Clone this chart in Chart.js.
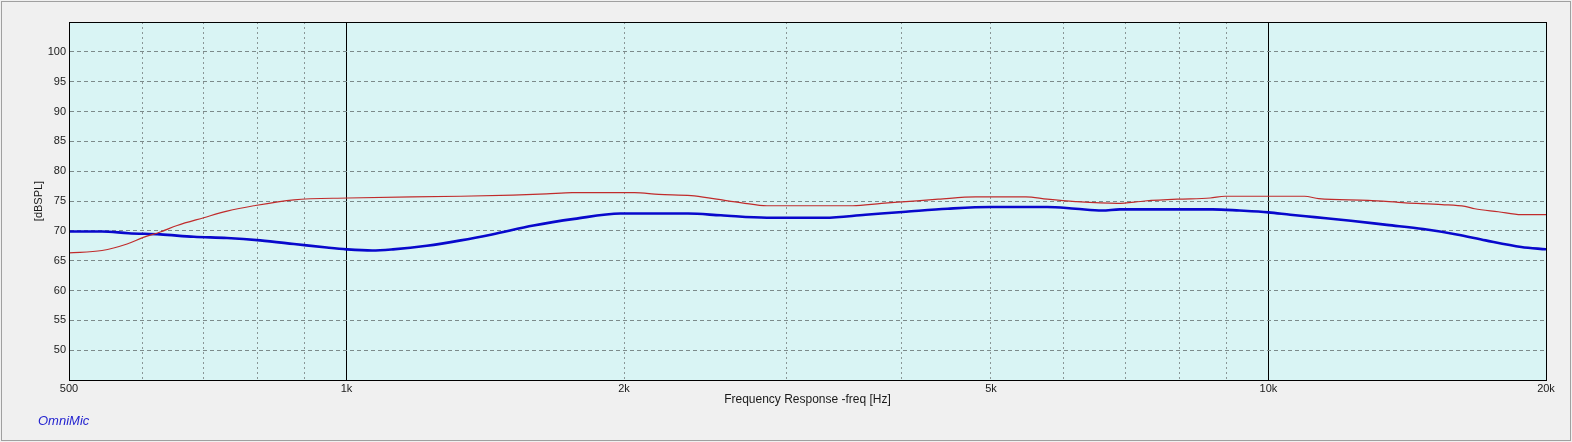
<!DOCTYPE html>
<html>
<head>
<meta charset="utf-8">
<title>Frequency Response</title>
<script src="https://cdn.jsdelivr.net/npm/chart.js@4/dist/chart.umd.min.js"></script>
<style>
  html, body { margin: 0; padding: 0; background: #f0f0f0; }
  #wrap { width: 1572px; height: 442px; }
</style>
</head>
<body>
<div id="wrap"><canvas id="fr" width="1572" height="442"></canvas></div>
<script>
// red trace (thin)
const redFreq = [500, 543, 578, 602, 628, 655, 700, 742, 793, 877, 1003, 1330, 1515, 1648, 1757, 2053, 2181, 2365, 2521, 2684, 2857, 3541, 3804, 4043, 4384, 4812, 5455, 5755, 6178, 6857, 7342, 7967, 8645, 8975, 10940, 11336, 12830, 14073, 15420, 16337, 16740, 17750, 18800, 20000];
const redDb = [66.3, 66.7, 67.8, 68.9, 69.8, 70.9, 72.2, 73.3, 74.2, 75.2, 75.5, 75.8, 76.0, 76.2, 76.4, 76.4, 76.1, 75.9, 75.3, 74.7, 74.2, 74.2, 74.6, 74.9, 75.3, 75.7, 75.7, 75.3, 74.9, 74.6, 75.0, 75.3, 75.5, 75.8, 75.8, 75.4, 75.1, 74.7, 74.4, 74.1, 73.7, 73.2, 72.7, 72.7];

// blue trace (bold)
const blueFreq = [500, 543, 580, 628, 683, 742, 806, 877, 952, 1000, 1066, 1123, 1222, 1330, 1438, 1595, 1767, 1982, 2346, 2547, 2857, 3302, 3655, 4043, 4485, 4998, 5755, 6178, 6600, 6900, 8700, 9300, 10000, 10560, 11222, 12284, 13440, 14720, 16000, 17200, 18800, 20000];
const blueDb = [69.9, 69.9, 69.6, 69.4, 69.0, 68.8, 68.4, 67.8, 67.2, 66.9, 66.7, 66.9, 67.5, 68.4, 69.4, 70.9, 72.0, 72.9, 72.9, 72.6, 72.2, 72.2, 72.7, 73.2, 73.7, 74.0, 74.0, 73.7, 73.4, 73.6, 73.6, 73.4, 73.1, 72.7, 72.3, 71.7, 71.0, 70.3, 69.4, 68.4, 67.3, 66.9];

const xTicks = [500, 600, 700, 800, 900, 1000, 2000, 3000, 4000, 5000, 6000, 7000, 8000, 9000, 10000, 20000];
const xLabels = {500: '500', 1000: '1k', 2000: '2k', 5000: '5k', 10000: '10k', 20000: '20k'};
const yTicks = [50, 55, 60, 65, 70, 75, 80, 85, 90, 95, 100];

const FONT = '"Liberation Sans", Arial, sans-serif';

function pts(xs, ys) {
  return xs.map((x, i) => ({x: x, y: ys[i]}));
}
function isMajor(c) {
  return c.tick && (c.tick.value === 1000 || c.tick.value === 10000);
}

const framePlugin = {
  id: 'frame',
  beforeDraw(chart) {
    const c = chart.ctx, a = chart.chartArea;
    c.save();
    c.fillStyle = '#f0f0f0';
    c.fillRect(0, 0, chart.width, chart.height);
    c.fillStyle = '#d9f4f4';
    c.fillRect(a.left, a.top, a.right - a.left, a.bottom - a.top);
    c.restore();
  },
  afterDraw(chart) {
    const c = chart.ctx, a = chart.chartArea;
    c.save();
    c.strokeStyle = '#000';
    c.lineWidth = 1;
    c.strokeRect(Math.round(a.left) + 0.5, Math.round(a.top) + 0.5,
      Math.round(a.right - a.left), Math.round(a.bottom - a.top));
    c.strokeStyle = '#a0a0a0';
    c.strokeRect(1.5, 1.5, chart.width - 3, chart.height - 3);
    c.fillStyle = '#2424d0';
    c.font = 'italic 13px ' + FONT;
    c.textBaseline = 'middle';
    c.fillText('OmniMic', 38, 421);
    c.restore();
  }
};

new Chart(document.getElementById('fr'), {
  type: 'line',
  data: {
    datasets: [
      {
        data: pts(redFreq, redDb),
        borderColor: '#c02c2c',
        borderWidth: 1.2,
        pointRadius: 0,
        cubicInterpolationMode: 'monotone'
      },
      {
        data: pts(blueFreq, blueDb),
        borderColor: '#0808cc',
        borderWidth: 2.6,
        pointRadius: 0,
        cubicInterpolationMode: 'monotone'
      }
    ]
  },
  options: {
    responsive: false,
    animation: false,
    layout: { padding: { left: 0, top: 22, right: 26, bottom: 0 } },
    plugins: { legend: { display: false }, tooltip: { enabled: false } },
    scales: {
      x: {
        type: 'logarithmic',
        min: 500,
        max: 20000,
        afterBuildTicks: s => { s.ticks = xTicks.map(v => ({value: v})); },
        afterFit: s => { s.height = 62; },
        ticks: {
          autoSkip: false,
          maxRotation: 0,
          padding: 2,
          color: '#1a1a1a',
          font: { family: FONT, size: 11 },
          callback: v => xLabels[v] || ''
        },
        grid: {
          drawTicks: false,
          color: c => isMajor(c) ? '#000' : '#8a9696',
          lineWidth: 1
        },
        border: {
          color: '#000',
          width: 1,
          dash: c => isMajor(c) ? [] : [2, 3]
        },
        title: {
          display: true,
          text: 'Frequency Response -freq [Hz]',
          color: '#1a1a1a',
          font: { family: FONT, size: 12 },
          padding: { top: 0, bottom: 35 }
        }
      },
      y: {
        min: 45,
        max: 105,
        afterBuildTicks: s => { s.ticks = yTicks.map(v => ({value: v})); },
        afterFit: s => { s.width = 69; },
        ticks: {
          padding: 3,
          color: '#1a1a1a',
          font: { family: FONT, size: 11 }
        },
        grid: {
          drawTicks: false,
          color: '#7c8a8a',
          lineWidth: 1
        },
        border: {
          color: '#000',
          width: 1,
          dash: [4, 3]
        },
        title: {
          display: true,
          text: '[dBSPL]',
          color: '#1a1a1a',
          font: { family: FONT, size: 11 },
          padding: { top: 32, bottom: 0 }
        }
      }
    }
  },
  plugins: [framePlugin]
});
</script>
</body>
</html>
